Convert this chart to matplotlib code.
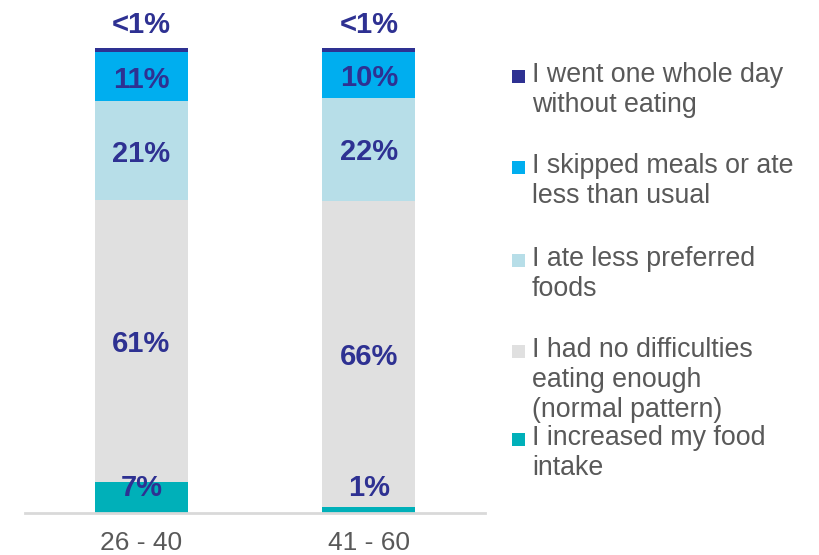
import matplotlib.pyplot as plt
from matplotlib.patches import Rectangle

# data
groups = ['26 - 40', '41 - 60']
series = [
    'I increased my food\nintake',
    'I had no difficulties\neating enough\n(normal pattern)',
    'I ate less preferred\nfoods',
    'I skipped meals or ate\nless than usual',
    'I went one whole day\nwithout eating',
]
values = [
    [6.6, 1.3],     # increased intake
    [60.6, 65.8],   # no difficulties
    [21.3, 22.2],   # less preferred foods
    [10.7, 9.9],    # skipped meals
    [0.8, 0.8],     # whole day without eating
]
labels = [
    ['7%', '1%'],
    ['61%', '66%'],
    ['21%', '22%'],
    ['11%', '10%'],
    ['<1%', '<1%'],
]
colors = ['#00B0B9', '#E0E0E0', '#B7DEE8', '#00AEEF', '#2E3192']
lbl_color = '#2E3192'
txt_color = '#595959'

W, H = 819, 555
fig = plt.figure(figsize=(W / 100, H / 100), dpi=100)
ax = fig.add_axes([25 / W, 1 - 513 / H, (485 - 25) / W, 513 / H])

x = range(len(groups))
bottoms = [0] * len(groups)
for k, vals in enumerate(values):
    ax.bar(x, vals, width=0.409, bottom=bottoms, color=colors[k], linewidth=0)
    for i, v in enumerate(vals):
        if k == 0:
            y = 6
        elif k == len(values) - 1:
            y = bottoms[i] + v + 5.6
        else:
            y = bottoms[i] + v / 2
        ax.text(i, y, labels[k][i], ha='center', va='center_baseline', color=lbl_color,
                fontsize=21, fontweight='bold', family='Liberation Sans')
    bottoms = [b + v for b, v in zip(bottoms, vals)]

ax.set_xlim(-0.512, 1.51)
ax.set_ylim(0, 110.3)
ax.set_yticks([])
ax.set_xticks([])
for s in ['top', 'right', 'left']:
    ax.spines[s].set_visible(False)
ax.spines['bottom'].set_color('#D9D9D9')
ax.spines['bottom'].set_linewidth(2)
for i, g in enumerate(groups):
    ax.text(i, -30 / 4.65, g, ha='center', va='center', color=txt_color,
            fontsize=19, family='Liberation Sans')

# legend drawn by hand, top entry first
baselines = [82, 173, 266, 357, 445]
for k, base in zip(range(len(series) - 1, -1, -1), baselines):
    fig.patches.append(Rectangle((512 / W, 1 - (base + 1) / H), 13 / W, 13 / H,
                                 transform=fig.transFigure, color=colors[k], lw=0))
    for j, line in enumerate(series[k].split('\n')):
        fig.text(532 / W, 1 - (base + j * 30) / H, line, ha='left', va='baseline',
                 color=txt_color, fontsize=19.3, family='Liberation Sans')

fig.savefig('out.png', dpi=100)
